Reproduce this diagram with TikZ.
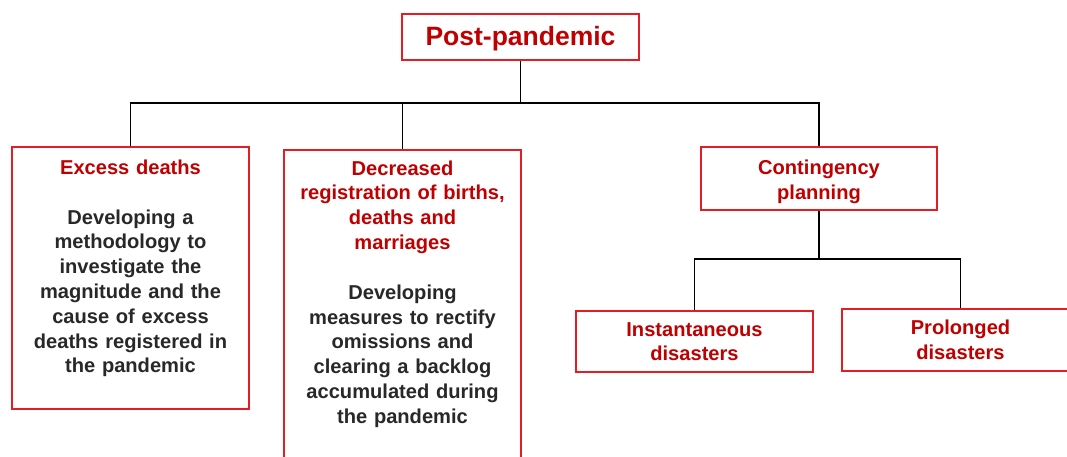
\documentclass[tikz,border=0pt]{standalone}
\usepackage{fontspec}
\setmainfont{Liberation Sans}
\definecolor{bred}{RGB}{228,28,36}
\definecolor{tred}{RGB}{192,0,0}
\definecolor{tgray}{RGB}{40,40,40}
\begin{document}
\begin{tikzpicture}[x=1pt,y=-1pt,
  box/.style={draw=bred, line width=1.5pt, fill=white, inner sep=0pt},
  txt/.style={anchor=base, align=center, text width=235pt, inner sep=0pt,
    font=\bfseries\fontsize{20.1}{24.8}\selectfont},
  ttl/.style={txt, text=tred},
  body/.style={txt, text=tgray},
  wire/.style={line width=1.4pt, black}]
\useasboundingbox (0,0) rectangle (1067,456);
\fill[white] (0,0) rectangle (1067,456);

% boxes
\node[box, minimum width=237pt, minimum height=46pt] (post) at (520.5,37) {};
\node[box, minimum width=237pt, minimum height=262pt] (ex) at (130.5,278) {};
\node[box, minimum width=237pt, minimum height=320pt] (dec) at (402.5,310) {};
\node[box, minimum width=236pt, minimum height=63pt] (cont) at (819,178.5) {};
\node[box, minimum width=237pt, minimum height=61pt] (inst) at (694.5,341.5) {};
\node[box, minimum width=237pt, minimum height=62pt] (prol) at (960.5,340) {};

% texts
\node[anchor=base, inner sep=0pt, text=tred, font=\bfseries\fontsize{26.5}{30}\selectfont] (postt) at (520.5,45.7) {Post-pandemic};
\node[ttl] (ext) at (130.5,174.3) {Excess deaths\\[25pt]
  \textcolor{tgray}{Developing a\\ methodology  to\\ investigate the\\ magnitude  and the\\ cause of excess\\ deaths registered in\\ the pandemic}};
\node[ttl] (dect) at (402.5,175) {Decreased\\ registration of births,\\ deaths and\\ marriages\\[25pt]
  \textcolor{tgray}{Developing\\ measures to rectify\\ omissions  and\\ clearing a backlog\\ accumulated  during\\ the pandemic}};
\node[ttl] (contt) at (819,174.5) {Contingency\\ planning};
\node[ttl] (instt) at (694.5,336) {Instantaneous\\ disasters};
\node[ttl] (prolt) at (960.5,334.3) {Prolonged\\ disasters};

% connectors
\coordinate (bus) at (520.5,103);
\coordinate (bus2) at (819,259);
\draw[wire] (post.south) -- (bus) -| (ex.north);
\draw[wire] (bus) -| (dec.north);
\draw[wire] (bus) -| (cont.north);
\draw[wire] (cont.south) -- (bus2) -| (inst.north);
\draw[wire] (bus2) -| (prol.north);
\end{tikzpicture}
\end{document}
